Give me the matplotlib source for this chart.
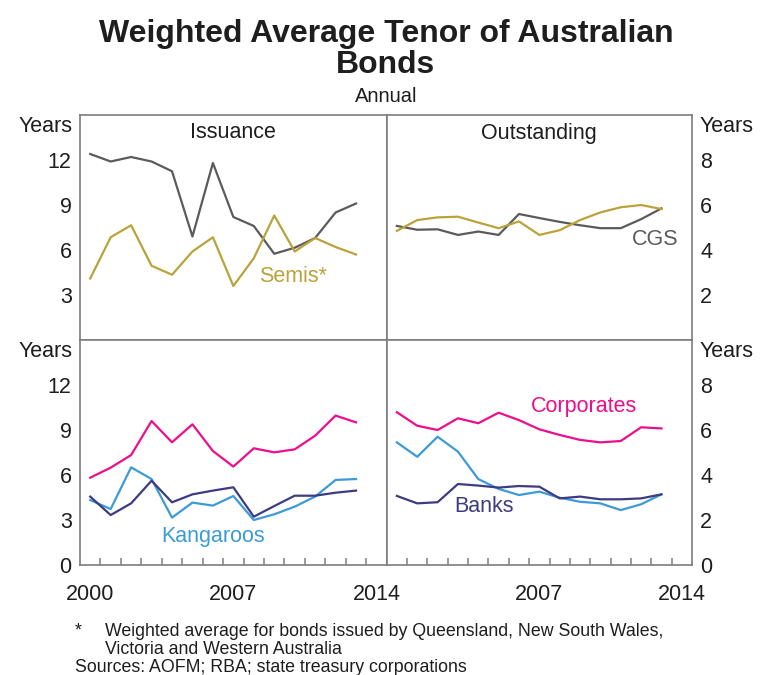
import matplotlib
matplotlib.use("Agg")
import matplotlib.pyplot as plt

plt.rcParams['font.family'] = ['Liberation Sans', 'DejaVu Sans']

# === data (annual, plotted at mid-year) ===
years = list(range(2000, 2014))

# Issuance, years (left scale)
cgs_issuance = [12.4, 11.9, 12.2, 11.9, 11.25, 6.9, 11.8, 8.2, 7.6, 5.75, 6.15, 6.8, 8.5, 9.1]
semis_issuance = [4.1, 6.85, 7.65, 4.95, 4.35, 5.9, 6.85, 3.6, 5.45, 8.3, 5.9, 6.8, 6.2, 5.7]
corp_issuance = [5.82, 6.49, 7.33, 9.6, 8.18, 9.38, 7.6, 6.56, 7.78, 7.51, 7.71, 8.62, 9.96, 9.51]
kang_issuance = [4.33, 3.73, 6.51, 5.73, 3.16, 4.16, 3.96, 4.6, 3.0, 3.38, 3.89, 4.56, 5.67, 5.73]
bank_issuance = [4.56, 3.33, 4.11, 5.62, 4.18, 4.71, 4.96, 5.18, 3.22, 3.93, 4.62, 4.62, 4.82, 4.96]

# Outstanding, years (right scale)
cgs_outst = [5.07, 4.9, 4.92, 4.67, 4.82, 4.67, 5.6, 5.42, 5.25, 5.1, 4.97, 4.97, 5.37, 5.85]
semis_outst = [4.85, 5.33, 5.45, 5.48, 5.22, 4.97, 5.27, 4.67, 4.88, 5.33, 5.67, 5.9, 6.0, 5.82]
corp_outst = [6.79, 6.19, 6.0, 6.52, 6.3, 6.77, 6.44, 6.03, 5.78, 5.56, 5.45, 5.51, 6.12, 6.07]
kang_outst = [5.45, 4.81, 5.7, 5.04, 3.82, 3.38, 3.11, 3.26, 2.99, 2.81, 2.74, 2.44, 2.7, 3.14]
bank_outst = [3.07, 2.74, 2.79, 3.6, 3.53, 3.44, 3.51, 3.48, 2.96, 3.04, 2.92, 2.92, 2.96, 3.14]

left_ticks = [0, 3, 6, 9, 12]
right_ticks = [0, 2, 4, 6, 8]

# colours
C_CGS = '#5b5b5b'
C_SEMI = '#b9a33a'
C_CORP = '#ec0e8c'
C_KANG = '#3b9bd8'
C_BANK = '#3d3b82'
C_TXT = '#1e1e1e'
C_GRID = '#d3d3d3'
C_SPINE = '#7d7d7d'

FS = 15.5
LW = 1.6

fig = plt.figure(figsize=(7.6, 6.75), dpi=100)

W, H = 760.0, 675.0
x0, xm, x1 = 80 / W, 386.7 / W, 692 / W
yt, ym, yb = 1 - 115 / H, 1 - 340 / H, 1 - 565 / H

ax_tl = fig.add_axes([x0, ym, xm - x0, yt - ym])
ax_tr = fig.add_axes([xm, ym, x1 - xm, yt - ym])
ax_bl = fig.add_axes([x0, yb, xm - x0, ym - yb])
ax_br = fig.add_axes([xm, yb, x1 - xm, ym - yb])

xs = [y + 0.5 for y in years]


def style(ax, right, bottom):
    ax.set_xlim(2000, 2015)
    if right:
        ax.set_ylim(0, 10)
        ticks = right_ticks if bottom else right_ticks[1:]
        ax.yaxis.tick_right()
        ax.set_yticks(right_ticks[1:], minor=True)
    else:
        ax.set_ylim(0, 15)
        ticks = left_ticks if bottom else left_ticks[1:]
        ax.set_yticks(left_ticks[1:], minor=True)
    ax.set_yticks(ticks)
    ax.grid(True, which='minor', axis='y', color=C_GRID, lw=1.3)
    ax.set_axisbelow(True)
    ax.tick_params(axis='y', which='both', length=0, labelsize=FS,
                   labelcolor=C_TXT, pad=6)
    for s in ax.spines.values():
        s.set_color(C_SPINE)
        s.set_linewidth(1.2)
    if bottom:
        if right:
            ax.set_xticks([2007.5, 2014.5])
            ax.set_xticklabels(['2007', '2014'])
        else:
            ax.set_xticks([2000.5, 2007.5, 2014.5])
            ax.set_xticklabels(['2000', '2007', '2014'])
        ax.set_xticks(range(2001, 2015), minor=True)
        ax.tick_params(axis='x', which='major', length=0, labelsize=FS,
                       labelcolor=C_TXT, pad=14)
        ax.tick_params(axis='x', which='minor', direction='in', length=5,
                       width=1.1, color=C_SPINE)
    else:
        ax.set_xticks([])
    # "Years" unit label at the top of each scale
    if right:
        ax.annotate('Years', xy=(1, 1), xycoords='axes fraction',
                    xytext=(5.5, -8), textcoords='offset points',
                    ha='left', va='center', fontsize=FS, color=C_TXT)
    else:
        ax.annotate('Years', xy=(0, 1), xycoords='axes fraction',
                    xytext=(-5.5, -8), textcoords='offset points',
                    ha='right', va='center', fontsize=FS, color=C_TXT)


for ax, r, b in [(ax_tl, False, False), (ax_tr, True, False),
                 (ax_bl, False, True), (ax_br, True, True)]:
    style(ax, r, b)

# top-left: issuance
ax_tl.plot(xs, cgs_issuance, color=C_CGS, lw=LW)
ax_tl.plot(xs, semis_issuance, color=C_SEMI, lw=LW)
ax_tl.text(0.5, 0.92, 'Issuance', transform=ax_tl.transAxes, ha='center',
           va='center', fontsize=FS, color=C_TXT)
ax_tl.text(2010.4, 4.2, 'Semis*', ha='center', va='center', fontsize=FS,
           color=C_SEMI)

# top-right: outstanding
ax_tr.plot(xs, cgs_outst, color=C_CGS, lw=LW)
ax_tr.plot(xs, semis_outst, color=C_SEMI, lw=LW)
ax_tr.text(0.5, 0.92, 'Outstanding', transform=ax_tr.transAxes, ha='center',
           va='center', fontsize=FS, color=C_TXT)
ax_tr.text(2013.2, 4.45, 'CGS', ha='center', va='center', fontsize=FS,
           color=C_CGS)

# bottom-left
ax_bl.plot(xs, corp_issuance, color=C_CORP, lw=LW)
ax_bl.plot(xs, kang_issuance, color=C_KANG, lw=LW)
ax_bl.plot(xs, bank_issuance, color=C_BANK, lw=LW)
ax_bl.text(2006.5, 1.9, 'Kangaroos', ha='center', va='center', fontsize=FS,
           color=C_KANG)

# bottom-right
ax_br.plot(xs, corp_outst, color=C_CORP, lw=LW)
ax_br.plot(xs, kang_outst, color=C_KANG, lw=LW)
ax_br.plot(xs, bank_outst, color=C_BANK, lw=LW)
ax_br.text(2009.7, 7.05, 'Corporates', ha='center', va='center', fontsize=FS,
           color=C_CORP)
ax_br.text(2004.8, 2.6, 'Banks', ha='center', va='center', fontsize=FS,
           color=C_BANK)

# titles
cx = (x0 + x1) / 2
fig.text(cx, 1 - 34 / H, 'Weighted Average Tenor of Australian', ha='center',
         va='center', fontsize=23, fontweight='bold', color=C_TXT)
fig.text(cx, 1 - 65 / H, 'Bonds', ha='center', va='center', fontsize=23,
         fontweight='bold', color=C_TXT)
fig.text(cx, 1 - 97 / H, 'Annual', ha='center', va='center', fontsize=14.5,
         color=C_TXT)

# footnotes
FN = 12.8
fig.text(75 / W, 1 - 631 / H, '*', ha='left', va='center', fontsize=FN, color=C_TXT)
fig.text(105 / W, 1 - 631 / H,
         'Weighted average for bonds issued by Queensland, New South Wales,',
         ha='left', va='center', fontsize=FN, color=C_TXT)
fig.text(105 / W, 1 - 649 / H, 'Victoria and Western Australia',
         ha='left', va='center', fontsize=FN, color=C_TXT)
fig.text(75 / W, 1 - 667 / H, 'Sources: AOFM; RBA; state treasury corporations',
         ha='left', va='center', fontsize=FN, color=C_TXT)

fig.savefig('out.png', dpi=100)
